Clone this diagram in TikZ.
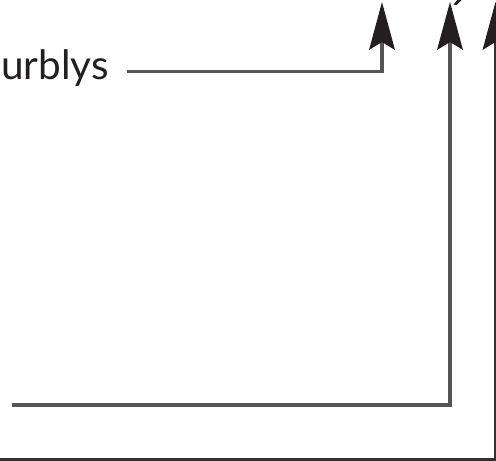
\documentclass[tikz,border=0pt]{standalone}
\usepackage{fontspec}
\setmainfont{Lato}
\usetikzlibrary{arrows.meta}
\definecolor{linegray}{RGB}{85,85,85}
\definecolor{basegray}{RGB}{50,50,50}
\definecolor{tipblack}{RGB}{35,31,32}
\tikzset{
  lbl/.style={inner sep=0pt, font=\fontsize{40.5}{42}\selectfont, text=tipblack},
  conn/.style={draw=linegray, line width=3.5pt,
    -{Stealth[length=48pt, width=26pt, inset=8pt, color=tipblack, line width=0pt]}},
  baseconn/.style={draw=basegray, line width=2.5pt,
    -{Stealth[length=48pt, width=26pt, inset=8pt, color=tipblack, line width=0pt]}}
}
\begin{document}
\begin{tikzpicture}[x=1pt,y=-1pt]
\useasboundingbox (0,0) rectangle (496,461);
\node[lbl, anchor=base west] (t) at (1,79) {urblys};
\coordinate (l1s) at (127,71.5);
\coordinate (a1) at (382,2);
\coordinate (l2s) at (12,405);
\coordinate (a2) at (450,2);
\coordinate (l3s) at (-5,459.5);
\coordinate (a3) at (495.5,2);
\draw[conn] (l1s) -| (a1);
\draw[conn] (l2s) -| (a2);
\draw[baseconn] (l3s) -| (a3);
\fill[tipblack] (453.5,4.5) -- (458,-1) -- (462.5,-1) -- (456.5,5) -- cycle;
\end{tikzpicture}
\end{document}
